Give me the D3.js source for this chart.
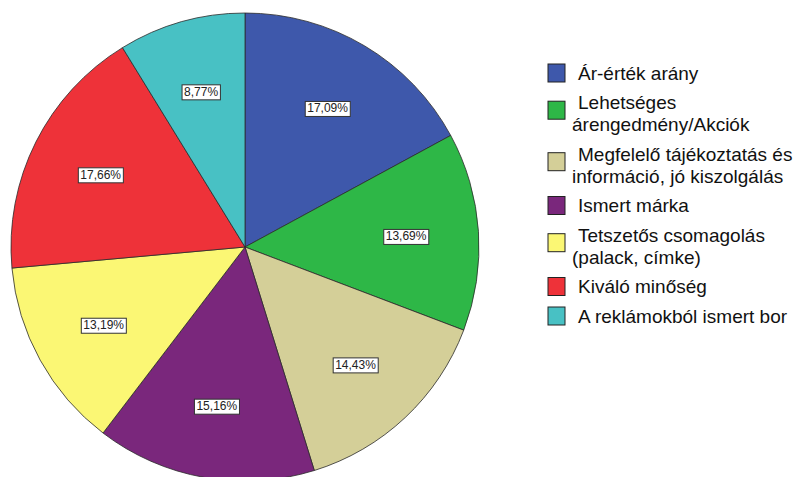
<!DOCTYPE html>
<html>
<head>
<meta charset="utf-8">
<script src="https://cdn.jsdelivr.net/npm/d3@7"></script>
<style>
  body { margin: 0; background: #fff; }
  svg { display: block; }
</style>
</head>
<body>
<div id="chart"></div>
<script>
// categories (legend text, wrapped lines) and shares in percent
var categories = [
  ["Ár-érték arány"],
  ["Lehetséges", "árengedmény/Akciók"],
  ["Megfelelő tájékoztatás és", "információ, jó kiszolgálás"],
  ["Ismert márka"],
  ["Tetszetős csomagolás", "(palack, címke)"],
  ["Kiváló minőség"],
  ["A reklámokból ismert bor"]
];
var values = [17.09, 13.69, 14.43, 15.16, 13.19, 17.66, 8.77];
var labels = ["17,09%", "13,69%", "14,43%", "15,16%", "13,19%", "17,66%", "8,77%"];
var colors = ["#3e58ab", "#2eb747", "#d4cf98", "#7a277c", "#fbf774", "#ee3239", "#48c1c4"];

var width = 801, height = 477;
var cx = 245, cy = 247, radius = 234;

var svg = d3.select("#chart").append("svg")
    .attr("width", width)
    .attr("height", height);

var pie = d3.pie().sort(null).value(function(d) { return d; });
var arcs = pie(values);

var arc = d3.arc().innerRadius(0).outerRadius(radius);
var labelArc = d3.arc().innerRadius(radius * 0.69).outerRadius(radius * 0.69);

var g = svg.append("g").attr("transform", "translate(" + cx + "," + cy + ")");

g.selectAll("path.slice")
  .data(arcs)
  .enter().append("path")
    .attr("class", "slice")
    .attr("d", arc)
    .attr("fill", function(d, i) { return colors[i]; })
    .attr("stroke", "#2b2b2b")
    .attr("stroke-width", 0.8);

// value labels in white boxes
var lab = g.selectAll("g.lab")
  .data(arcs)
  .enter().append("g")
    .attr("class", "lab")
    .attr("transform", function(d) { return "translate(" + labelArc.centroid(d) + ")"; });

lab.append("text")
    .attr("text-anchor", "middle")
    .attr("dy", "0.35em")
    .style("font-family", "Liberation Sans, Arial, sans-serif")
    .style("font-size", "12px")
    .attr("fill", "#222")
    .text(function(d, i) { return labels[i]; });

lab.each(function() {
  var t = d3.select(this).select("text");
  var bb = t.node().getBBox();
  d3.select(this).insert("rect", "text")
    .attr("x", bb.x - 2)
    .attr("y", bb.y)
    .attr("width", bb.width + 4)
    .attr("height", bb.height + 1)
    .attr("fill", "#fff")
    .attr("stroke", "#333")
    .attr("stroke-width", 1);
});

// legend
var legX = 548, lineH = 22, gap = 29.5;
var y = 73;
var legend = svg.append("g");
categories.forEach(function(lines, i) {
  var item = legend.append("g");
  var boxMid = y + (lines.length - 1) * lineH * 0.35;
  item.append("rect")
    .attr("x", legX)
    .attr("y", boxMid - 9)
    .attr("width", 17)
    .attr("height", 18)
    .attr("fill", colors[i])
    .attr("stroke", "#222")
    .attr("stroke-width", 1);
  lines.forEach(function(s, j) {
    item.append("text")
      .attr("x", j === 0 ? 578 : 572)
      .attr("y", y + j * lineH)
      .attr("dy", "0.35em")
      .style("font-family", "Liberation Sans, Arial, sans-serif")
      .style("font-size", "19px")
      .attr("fill", "#111")
      .text(s);
  });
  y += (lines.length - 1) * lineH + gap;
});
</script>
</body>
</html>
